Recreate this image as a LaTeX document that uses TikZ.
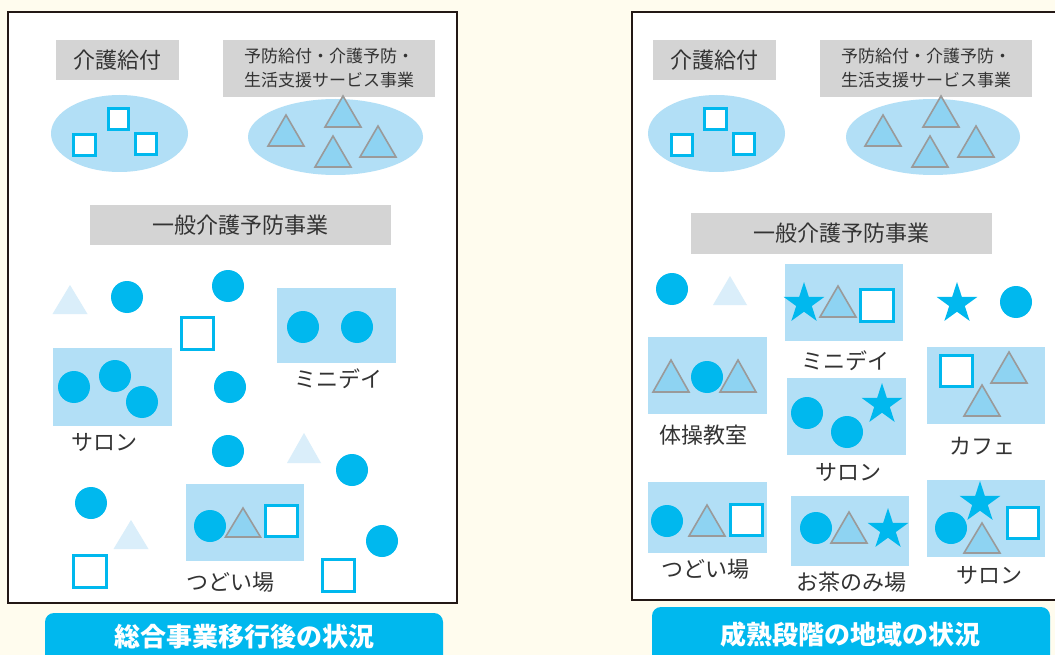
\documentclass[tikz,border=0pt]{standalone}
\usepackage{fontspec}
\newfontfamily\jp{Noto Sans CJK JP}
\usetikzlibrary{shapes.geometric}
\definecolor{cream}{HTML}{FFFCEE}
\definecolor{pale}{HTML}{B2DFF6}
\definecolor{aqua}{HTML}{00B8EE}
\definecolor{trifill}{HTML}{8ED3F2}
\definecolor{trigray}{HTML}{9A9A9A}
\definecolor{faint}{HTML}{DAEEFA}
\definecolor{boxgray}{HTML}{D4D4D4}
\definecolor{ink}{HTML}{231815}
\definecolor{txt}{HTML}{333333}
\tikzset{
  panel/.style={draw=ink, line width=2pt, fill=white},
  graybox/.style={fill=boxgray, text=txt, inner sep=0pt, font=\jp\fontsize{22}{26}\selectfont},
  blob/.style={fill=pale},
  group/.style={fill=pale},
  dot/.style={fill=aqua},
  sq/.style={draw=aqua, line width=3pt, fill=white},
  tri/.style={draw=trigray, line width=1.6pt, fill=trifill, line join=miter},
  ghost/.style={fill=faint},
  starshape/.style={star, star points=5, star point ratio=2.618, fill=aqua, inner sep=0pt, minimum size=43pt},
  lbl/.style={text=txt, font=\jp\fontsize{22}{26}\selectfont},
  titlebar/.style={fill=aqua, rounded corners=9pt},
  titletext/.style={text=white, font=\jp\bfseries\fontsize{26}{30}\selectfont}
}
\begin{document}
\begin{tikzpicture}[x=1pt,y=-1pt]
      \fill[cream] (0,0) rectangle (1055,655);
      \clip (0,0) rectangle (1055,655);
      % left panel: after the transition
      \draw[panel] (8,12) rectangle (457,603);
      \node[graybox, minimum width=123pt, minimum height=40pt] (careL) at (117.5,60) {介護給付};
      \node[graybox, minimum width=212pt, minimum height=57pt, align=center,
        font=\jp\fontsize{17}{24}\selectfont] (prevL) at (329,68.5) {予防給付・介護予防・\\生活支援サービス事業};
      \fill[blob] (119.5,133.5) ellipse [x radius=68.5, y radius=38.5];
      \draw[sq] (108.5,108.5) rectangle (128.5,129.5);
      \draw[sq] (73.5,134.5) rectangle (95.5,155.5);
      \draw[sq] (135.5,133.5) rectangle (156.5,154.5);
      \fill[blob] (335.5,137) ellipse [x radius=87.5, y radius=38];
      \draw[tri] (286,115) -- ++(18,31) -- ++(-36,0) -- cycle;
      \draw[tri] (343,96) -- ++(18,31) -- ++(-36,0) -- cycle;
      \draw[tri] (333,136) -- ++(18,31) -- ++(-36,0) -- cycle;
      \draw[tri] (378,126) -- ++(18,31) -- ++(-36,0) -- cycle;
      \node[graybox, minimum width=301pt, minimum height=40pt] (genL) at (240.5,225) {一般介護予防事業};
      \fill[ghost] (70,285) -- ++(17.5,29) -- ++(-35,0) -- cycle;
      \fill[dot] (127,297) circle (16);
      \fill[dot] (228,286) circle (16);
      \draw[sq] (181.5,317.5) rectangle (213.5,349.5);
      \fill[group] (277,288) rectangle (396,363);
      \fill[dot] (303,327) circle (16);
      \fill[dot] (357,327) circle (16);
      \node[lbl] (minidayL) at (338,379) {ミニデイ};
      \fill[group] (53,348) rectangle (172,426);
      \fill[dot] (74,387) circle (16);
      \fill[dot] (115,376) circle (16);
      \fill[dot] (142,402) circle (16);
      \node[lbl] (salonL) at (104,442) {サロン};
      \fill[dot] (230,387) circle (16);
      \fill[dot] (228,451) circle (16);
      \fill[ghost] (304,433) -- ++(17,30) -- ++(-34,0) -- cycle;
      \fill[dot] (352,470) circle (16);
      \fill[dot] (91,503) circle (16);
      \fill[ghost] (131,520) -- ++(17.5,29) -- ++(-35,0) -- cycle;
      \draw[sq] (73.5,555.5) rectangle (106.5,587.5);
      \fill[group] (186,484) rectangle (304,561);
      \fill[dot] (210,526) circle (16);
      \draw[tri] (243,508) -- ++(17.5,29) -- ++(-35,0) -- cycle;
      \draw[sq] (265.5,505.5) rectangle (297.5,536.5);
      \node[lbl] (tsudoiL) at (230,582) {つどい場};
      \fill[dot] (382,541) circle (16);
      \draw[sq] (322.5,559.5) rectangle (354.5,591.5);
      \fill[titlebar] (45,613) rectangle (443,680);
      \node[titletext] (titleL) at (244,637) {総合事業移行後の状況};
      % right panel: mature stage
      \draw[panel] (632,12) rectangle (1075,600);
      \node[graybox, minimum width=123pt, minimum height=40pt] (careR) at (714.5,60) {介護給付};
      \node[graybox, minimum width=212pt, minimum height=57pt, align=center,
        font=\jp\fontsize{17}{24}\selectfont] (prevR) at (926,68.5) {予防給付・介護予防・\\生活支援サービス事業};
      \fill[blob] (716.5,133.5) ellipse [x radius=68.5, y radius=38.5];
      \draw[sq] (704.5,108.5) rectangle (726.5,129.5);
      \draw[sq] (671.5,134.5) rectangle (692.5,155.5);
      \draw[sq] (733.5,133.5) rectangle (754.5,154.5);
      \fill[blob] (933,137) ellipse [x radius=87, y radius=38];
      \draw[tri] (883,115) -- ++(18,31) -- ++(-36,0) -- cycle;
      \draw[tri] (941,96) -- ++(18,31) -- ++(-36,0) -- cycle;
      \draw[tri] (930,136) -- ++(18,31) -- ++(-36,0) -- cycle;
      \draw[tri] (976,126) -- ++(18,31) -- ++(-36,0) -- cycle;
      \node[graybox, minimum width=301pt, minimum height=41pt] (genR) at (841.5,233.5) {一般介護予防事業};
      \fill[dot] (672,289) circle (16);
      \fill[ghost] (730,276) -- ++(17,29) -- ++(-34,0) -- cycle;
      \fill[group] (785,264) rectangle (903,341);
      \node[starshape] (starA) at (804,303.5) {};
      \draw[tri] (838,286) -- ++(18,31) -- ++(-36,0) -- cycle;
      \draw[sq] (860.5,289.5) rectangle (893.5,321.5);
      \node[lbl] (minidayR) at (845,361) {ミニデイ};
      \node[starshape] (starB) at (957,303.5) {};
      \fill[dot] (1016,302) circle (16);
      \fill[group] (648,337) rectangle (767,414);
      \draw[tri] (671,360) -- ++(18,32) -- ++(-36,0) -- cycle;
      \fill[dot] (707,377) circle (16);
      \draw[tri] (738,360) -- ++(18,32) -- ++(-36,0) -- cycle;
      \node[lbl] (taiso) at (703,435) {体操教室};
      \fill[group] (787,378) rectangle (906,455);
      \fill[dot] (807,413) circle (16);
      \fill[dot] (847,432) circle (16);
      \node[starshape] (starC) at (882,404.5) {};
      \node[lbl] (salonR) at (848,472) {サロン};
      \fill[group] (927,347) rectangle (1045,424);
      \draw[sq] (940.5,355.5) rectangle (972.5,386.5);
      \draw[tri] (1009,352) -- ++(18,31) -- ++(-36,0) -- cycle;
      \draw[tri] (982,385) -- ++(18,31) -- ++(-36,0) -- cycle;
      \node[lbl] (cafe) at (982,446) {カフェ};
      \fill[group] (648,482) rectangle (767,553);
      \fill[dot] (667,521) circle (16);
      \draw[tri] (707,505) -- ++(18,31) -- ++(-36,0) -- cycle;
      \draw[sq] (730.5,504.5) rectangle (762.5,535.5);
      \node[lbl] (tsudoiR) at (705,569) {つどい場};
      \fill[group] (791,496) rectangle (909,566);
      \fill[dot] (816,528) circle (16);
      \draw[tri] (849,512) -- ++(18,31) -- ++(-36,0) -- cycle;
      \node[starshape] (starD) at (888,529.5) {};
      \node[lbl] (ocha) at (851,582) {お茶のみ場};
      \fill[group] (927,480) rectangle (1045,557);
      \node[starshape] (starE) at (980,502.5) {};
      \fill[dot] (951,528) circle (16);
      \draw[tri] (982,523) -- ++(18,30) -- ++(-36,0) -- cycle;
      \draw[sq] (1007.5,507.5) rectangle (1038.5,538.5);
      \node[lbl] (salonR2) at (989,575) {サロン};
      \fill[titlebar] (652,607) rectangle (1050,680);
      \node[titletext] (titleR) at (850,635) {成熟段階の地域の状況};
    \end{tikzpicture}
\end{document}
